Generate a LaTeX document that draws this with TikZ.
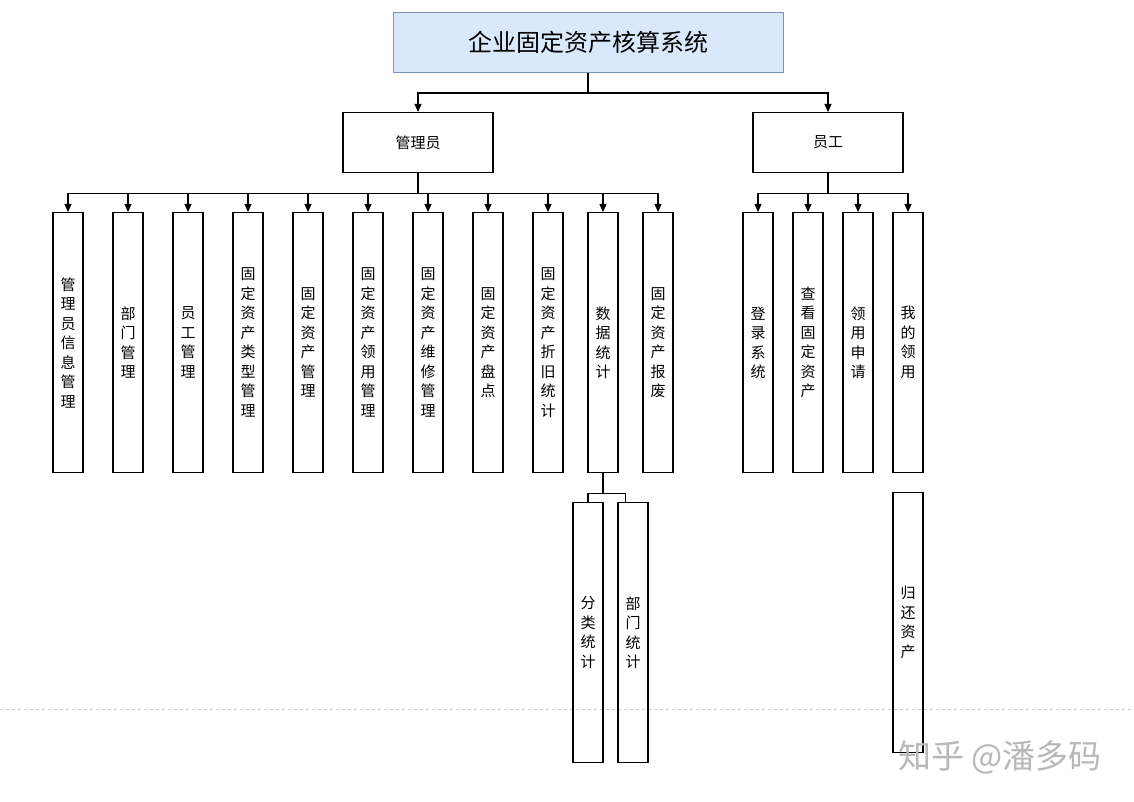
\documentclass[tikz,border=0pt]{standalone}
\usepackage{fontspec}
\setmainfont{Noto Sans CJK SC}
\usetikzlibrary{arrows.meta}
\definecolor{topfill}{HTML}{DAE8FC}
\definecolor{topdraw}{HTML}{7A94B8}
\begin{document}
\begin{tikzpicture}[x=1pt,y=-1pt,
  every node/.style={inner sep=0pt},
  conn/.style={line width=1.2pt, black},
  arr/.style={conn, -{Triangle[length=8pt,width=7pt]}},
  hbox/.style={draw, line width=1.2pt, minimum width=150pt, minimum height=60pt, anchor=north, font=\fontsize{15}{18}\selectfont},
  vbox/.style={draw, line width=1.2pt, minimum width=30pt, minimum height=260pt, anchor=north, align=center, font=\fontsize{15}{19.5}\selectfont}
]
\useasboundingbox (0,0) rectangle (1134,802);
\fill[white] (0,0) rectangle (1134,802);

% dashed page line
\draw[gray!40, dashed, line width=0.8pt] (0,709) -- (1134,709);

\node[draw=topdraw, fill=topfill, line width=1pt, minimum width=390pt, minimum height=60pt, anchor=north, font=\fontsize{24}{27}\selectfont] (root) at (588,12) {企业固定资产核算系统};

\node[hbox] (admin) at (418,112) {管理员};
\node[hbox] (emp) at (828,112) {员工};

\draw[arr] (root.south) -- ++(0,20) -| (admin.north);
\draw[arr] (root.south) -- ++(0,20) -| (emp.north);

% admin children
\node[vbox] (a1) at (68,212) {管\\理\\员\\信\\息\\管\\理};
\node[vbox] (a2) at (128,212) {部\\门\\管\\理};
\node[vbox] (a3) at (188,212) {员\\工\\管\\理};
\node[vbox] (a4) at (248,212) {固\\定\\资\\产\\类\\型\\管\\理};
\node[vbox] (a5) at (308,212) {固\\定\\资\\产\\管\\理};
\node[vbox] (a6) at (368,212) {固\\定\\资\\产\\领\\用\\管\\理};
\node[vbox] (a7) at (428,212) {固\\定\\资\\产\\维\\修\\管\\理};
\node[vbox] (a8) at (488,212) {固\\定\\资\\产\\盘\\点};
\node[vbox] (a9) at (548,212) {固\\定\\资\\产\\折\\旧\\统\\计};
\node[vbox] (a10) at (603,212) {数\\据\\统\\计};
\node[vbox] (a11) at (658,212) {固\\定\\资\\产\\报\\废};

\foreach \c in {a1,a2,a3,a4,a5,a6,a7,a8,a9,a10,a11}
  \draw[arr] (admin.south) -- ++(0,20) -| (\c.north);

% employee children
\node[vbox] (e1) at (758,212) {登\\录\\系\\统};
\node[vbox] (e2) at (808,212) {查\\看\\固\\定\\资\\产};
\node[vbox] (e3) at (858,212) {领\\用\\申\\请};
\node[vbox] (e4) at (908,212) {我\\的\\领\\用};

\foreach \c in {e1,e2,e3,e4}
  \draw[arr] (emp.south) -- ++(0,20) -| (\c.north);

% data statistics sub-boxes
\node[vbox] (s1) at (588,502) {分\\类\\统\\计};
\node[vbox] (s2) at (633,502) {部\\门\\统\\计};
\draw[conn] (a10.south) -- ++(0,20) -| (s1.north);
\draw[conn] (a10.south) -- ++(0,20) -| ([xshift=8pt]s2.north west);

% return asset box
\node[vbox] (r1) at (908,492) {归\\还\\资\\产};

% watermark
\node[text=black!28, font=\fontsize{33}{36}\selectfont] (wm) at (1000,757) {知乎 @潘多码};
\end{tikzpicture}
\end{document}
